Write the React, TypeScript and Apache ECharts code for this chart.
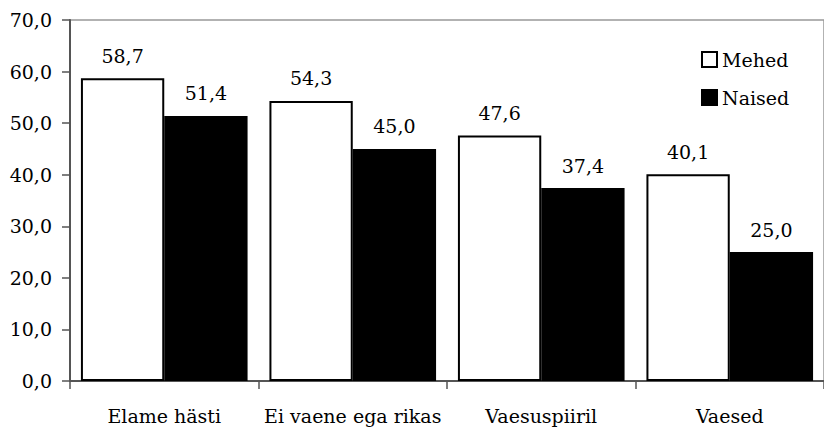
import React, { useEffect, useRef } from "react";
import * as echarts from "echarts";

const categories = ["Elame hästi", "Ei vaene ega rikas", "Vaesuspiiril", "Vaesed"];
const seriesNames = ["Mehed", "Naised"];
const mehed = [58.7, 54.3, 47.6, 40.1];
const naised = [51.4, 45.0, 37.4, 25.0];

const FONT = "DejaVu Serif";
const FS = 19;
const fmt = (v: number) => v.toFixed(1).replace(".", ",");

export default function App() {
  const ref = useRef<HTMLDivElement>(null);
  useEffect(() => {
    if (!ref.current) return;
    const chart = echarts.init(ref.current, undefined, { renderer: "svg" });
    const labelStyle = {
      show: true,
      position: "top" as const,
      distance: 13,
      fontFamily: FONT,
      fontSize: FS,
      color: "#000",
      formatter: (p: any) => fmt(p.value),
    };
    chart.setOption({
      animation: false,
      backgroundColor: "#fff",
      textStyle: { fontFamily: FONT, color: "#000" },
      grid: {
        left: 70,
        top: 20,
        width: 760,
        height: 361,
        show: true,
        borderColor: "#999",
        borderWidth: 1.5,
        backgroundColor: "transparent",
      },
      legend: {
        orient: "vertical",
        left: 701,
        top: 50,
        padding: 0,
        itemWidth: 15,
        itemHeight: 15,
        itemGap: 19,
        icon: "rect",
        textStyle: { fontFamily: FONT, fontSize: FS, lineHeight: 19, color: "#000", padding: [0, 0, 0, 0] },
        data: seriesNames,
      },
      xAxis: {
        type: "category",
        data: categories,
        axisLine: { lineStyle: { color: "#555", width: 2 } },
        axisTick: { show: true, length: 8, lineStyle: { color: "#555", width: 1.5 } },
        axisLabel: { fontFamily: FONT, fontSize: FS, color: "#000", margin: 25, interval: 0 },
      },
      yAxis: {
        type: "value",
        min: 0,
        max: 70,
        interval: 10,
        splitLine: { show: false },
        axisLine: { show: true, lineStyle: { color: "#555", width: 2 } },
        axisTick: { show: true, length: 8, lineStyle: { color: "#555", width: 1.5 } },
        axisLabel: {
          fontFamily: FONT,
          fontSize: FS,
          color: "#000",
          margin: 18,
          formatter: (v: number) => fmt(v),
        },
      },
      series: [
        {
          name: seriesNames[0],
          type: "bar",
          data: mehed,
          barGap: "0%",
          barCategoryGap: "11.6%",
          itemStyle: { color: "#fff", borderColor: "#000", borderWidth: 2 },
          label: labelStyle,
        },
        {
          name: seriesNames[1],
          type: "bar",
          data: naised,
          barGap: "0%",
          barCategoryGap: "11.6%",
          itemStyle: { color: "#000", borderColor: "#000", borderWidth: 2 },
          label: labelStyle,
        },
      ],
    });
    return () => chart.dispose();
  }, []);
  return (
    <div
      ref={ref}
      style={{ position: "fixed", left: 0, top: 0, width: 824, height: 428, background: "#fff" }}
    />
  );
}
